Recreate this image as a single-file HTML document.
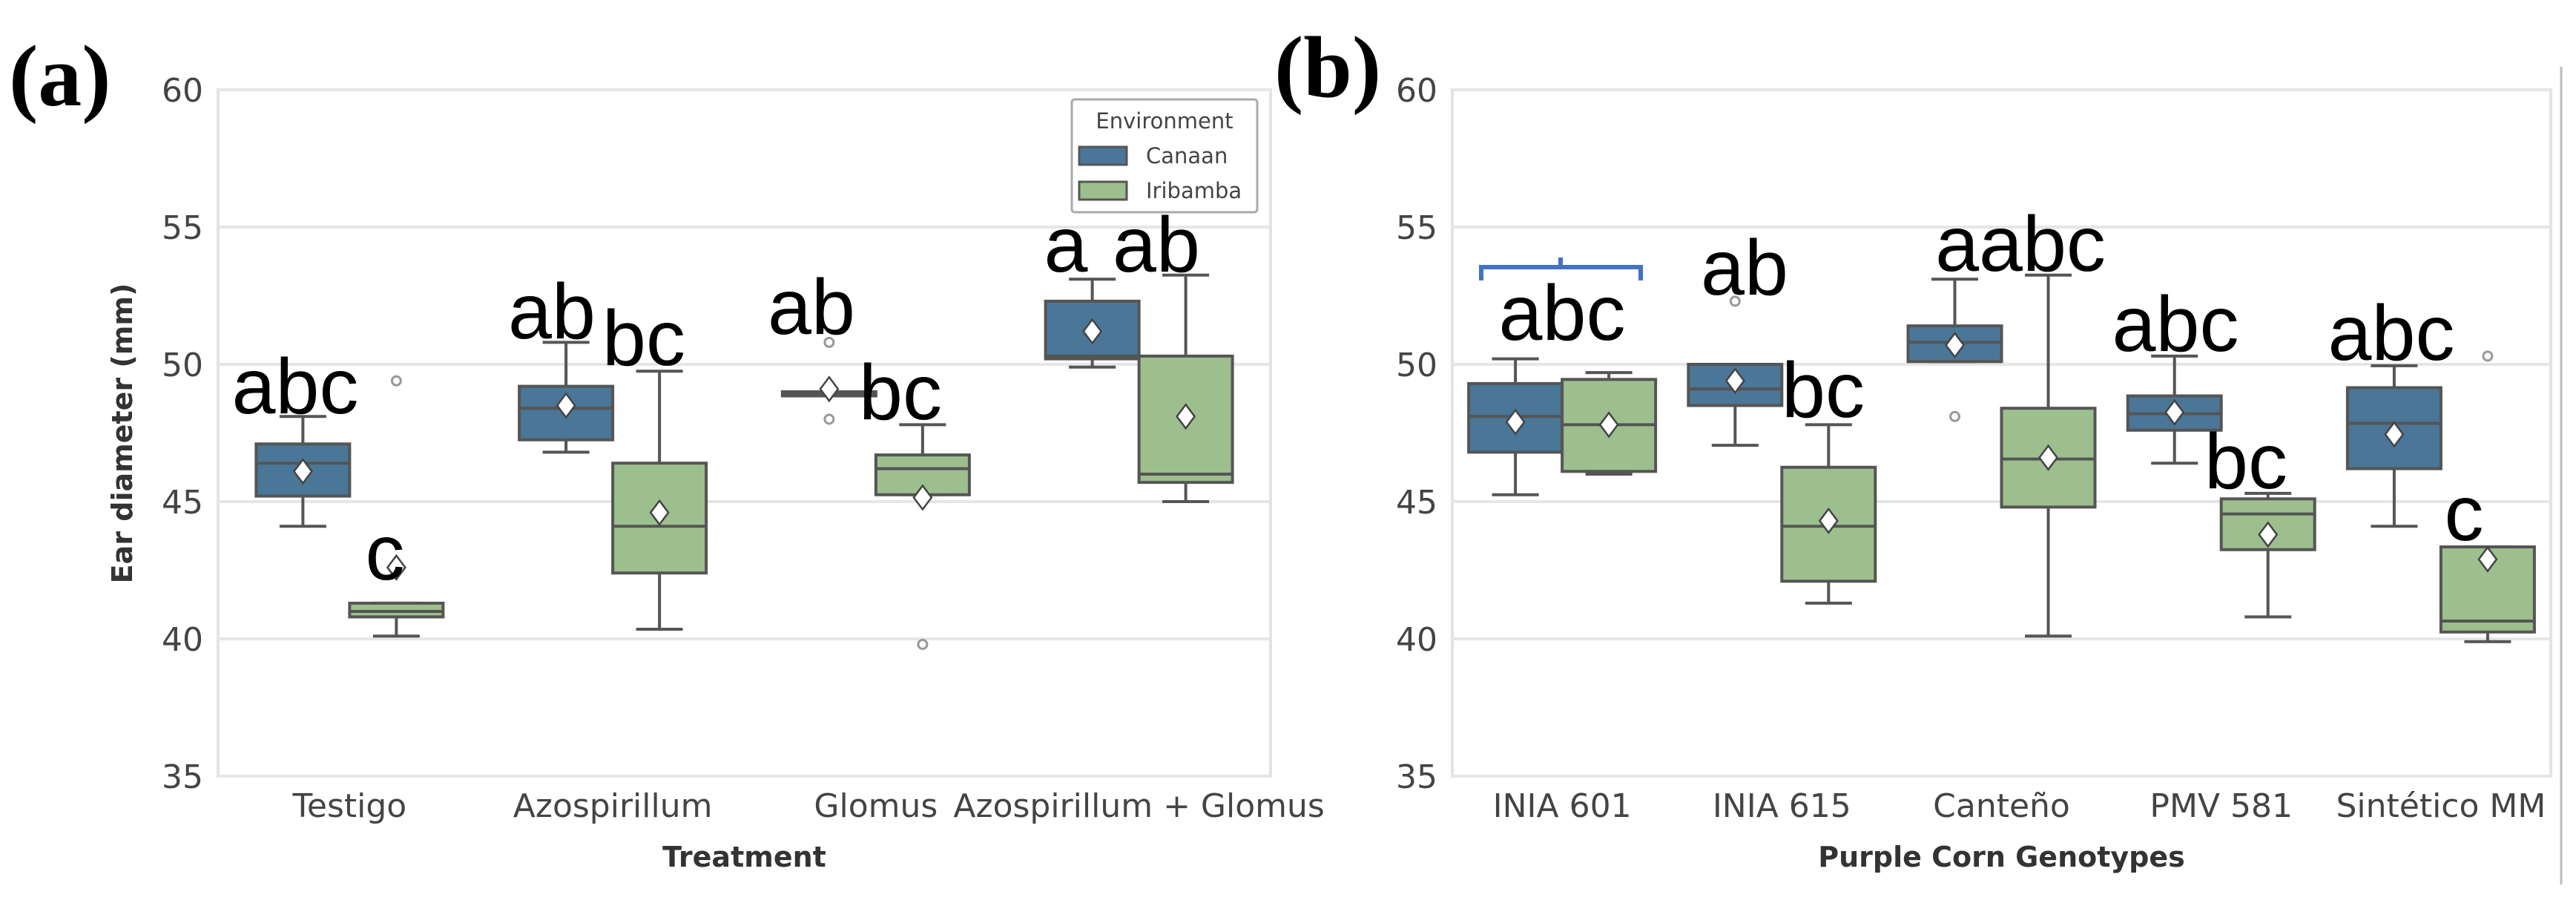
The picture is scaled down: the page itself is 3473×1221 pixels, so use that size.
<!DOCTYPE html>
<html><head><meta charset="utf-8">
<style>
html,body{margin:0;padding:0;background:#fff;}
svg{display:block;}
text{font-family:"DejaVu Sans","Liberation Sans",sans-serif;}
.tick{font-size:44px;fill:#444;}
.let{font-family:"Liberation Sans",sans-serif;font-size:106px;fill:#000;}
</style></head>
<body>
<svg id="fig" width="3473" height="1221" viewBox="0 0 3473 1221" xmlns="http://www.w3.org/2000/svg">
<text x="12" y="142" font-weight="bold" font-size="118" style="font-family:'Liberation Serif',serif">(a)</text>
<text x="1718" y="130" font-weight="bold" font-size="118" style="font-family:'Liberation Serif',serif">(b)</text>
<g id="pa"></g>
<g id="pb"></g>
<line x1="3453" y1="90" x2="3453" y2="1192" stroke="#bbb" stroke-width="3"/>
</svg>
<script>
// Panel (a) data
const catsA = ["Testigo","Azospirillum","Glomus","Azospirillum + Glomus"];
// [whiskerLow, Q1, median, Q3, whiskerHigh]
const canaanA = [[44.1,45.2,46.4,47.1,48.1],[46.8,47.25,48.4,49.2,50.8],[48.85,48.85,48.9,49.0,49.0],[49.9,50.2,50.3,52.3,53.1]];
const iribambaA = [[40.1,40.8,41.0,41.3,41.3],[40.35,42.4,44.1,46.4,49.75],[45.25,45.25,46.2,46.7,47.8],[45.0,45.7,46.0,50.3,53.25]];
const canaanMeanA = [46.1,48.5,49.1,51.2];
const iribambaMeanA = [42.6,44.6,45.15,48.1];
const canaanOutA = [[],[],[50.8,48.0],[]];
const iribambaOutA = [[49.4],[],[39.8],[]];
const lettersA = ["abc","c","ab","bc","ab","bc","a","ab"];
// Panel (b) data
const catsB = ["INIA 601","INIA 615","Canteño","PMV 581","Sintético MM"];
const canaanB = [[45.25,46.8,48.1,49.3,50.2],[47.05,48.5,49.1,50.0,50.0],[50.1,50.1,50.8,51.4,53.1],[46.4,47.6,48.2,48.85,50.3],[44.1,46.2,47.85,49.15,49.95]];
const iribambaB = [[46.0,46.1,47.8,49.45,49.7],[41.3,42.1,44.1,46.25,47.8],[40.1,44.8,46.55,48.4,53.25],[40.8,43.25,44.55,45.1,45.3],[39.9,40.25,40.65,43.35,43.35]];
const canaanMeanB = [47.9,49.4,50.7,48.25,47.45];
const iribambaMeanB = [47.8,44.3,46.6,43.8,42.9];
const canaanOutB = [[],[52.3],[48.1],[],[]];
const iribambaOutB = [[],[],[],[],[50.3]];
const lettersB = ["abc","ab","bc","aabc","abc","bc","abc","c"];
const yTicks = [35,40,45,50,55,60];

// annotation placement (pixel layout, not data)
const letPosA = [[398,557],[519,781],[744,456],[868,492],[1094,450],[1214,565],[1437,366],[1559,366]];
const letPosB = [[2106,458],[2352,397],[2458,562],[2724,365],[2933,473],[3028,658],[3224,485],[3322,728]];

const NS="http://www.w3.org/2000/svg";
const COL={c:"#4a7697",i:"#9dbf8e"};
function mk(p,tag,attrs){const e=document.createElementNS(NS,tag);for(const k in attrs)e.setAttribute(k,attrs[k]);p.appendChild(e);return e;}

function panel(g,opt){
  const L=opt.left,R=opt.right,T=121,B=1046;
  const y=v=>B-(v-35)/(60-35)*(B-T);
  const n=opt.cats.length,cw=(R-L)/n;
  const x=i=>L+cw*(i+0.5);
  const fr=mk(g,"rect",{x:L,y:T,width:R-L,height:B-T,fill:"none",stroke:"#e3e3e3","stroke-width":4});
  
  
  yTicks.forEach(v=>{
    const l=mk(g,"line",{x1:L,x2:R,y1:y(v),y2:y(v),stroke:"#e6e6e6","stroke-width":4});
    
    
    const t=mk(g,"text",{x:L-20,y:y(v)+16,"text-anchor":"end",class:"tick"});
    t.textContent=v;
    
    
  });
  opt.cats.forEach((c,i)=>{
    const t=mk(g,"text",{x:x(i),y:1101,"text-anchor":"middle",class:"tick"});
    t.textContent=c;
    
    
  });
  const xl=mk(g,"text",{x:(L+R)/2,y:1168,"text-anchor":"middle","font-size":38,"font-weight":"bold",fill:"#333"});
  xl.textContent=opt.xlabel;
  
  
  const bw=126;
  [["c",opt.can,opt.canMean,opt.canOut,-1],["i",opt.iri,opt.iriMean,opt.iriOut,1]].forEach(([k,st,mn,out,s])=>{
    st.forEach((d,i)=>{
      const cx=x(i)+s*bw/2;
      const grp=mk(g,"g",{});
      
      
      const ln={stroke:"#555","stroke-width":4};
      mk(grp,"line",Object.assign({x1:cx,x2:cx,y1:y(d[0]),y2:y(d[1])},ln));
      mk(grp,"line",Object.assign({x1:cx,x2:cx,y1:y(d[3]),y2:y(d[4])},ln));
      mk(grp,"line",Object.assign({x1:cx-bw/4,x2:cx+bw/4,y1:y(d[0]),y2:y(d[0])},ln));
      mk(grp,"line",Object.assign({x1:cx-bw/4,x2:cx+bw/4,y1:y(d[4]),y2:y(d[4])},ln));
      mk(grp,"rect",{x:cx-bw/2,y:y(d[3]),width:bw,height:Math.max(2,y(d[1])-y(d[3])),fill:COL[k],stroke:"#555","stroke-width":4});
      mk(grp,"line",Object.assign({x1:cx-bw/2,x2:cx+bw/2,y1:y(d[2]),y2:y(d[2])},ln));
      const my=y(mn[i]);
      const dm=mk(grp,"path",{d:`M${cx} ${my-16} L${cx+12} ${my} L${cx} ${my+16} L${cx-12} ${my} Z`,fill:"#fff",stroke:"#444","stroke-width":2.5});
      
      
      out[i].forEach(v=>{
        const o=mk(grp,"circle",{cx:cx,cy:y(v),r:6,fill:"none",stroke:"#999","stroke-width":3});
        
        
      });
    });
  });
  opt.letters.forEach((lt,j)=>{
    const t=mk(g,"text",{x:opt.letPos[j][0],y:opt.letPos[j][1],"text-anchor":"middle",class:"let"});
    t.textContent=lt;
    
    
  });
}
const pa=document.getElementById("pa"),pb=document.getElementById("pb");
panel(pa,{left:294,right:1713,cats:catsA,can:canaanA,iri:iribambaA,canMean:canaanMeanA,iriMean:iribambaMeanA,canOut:canaanOutA,iriOut:iribambaOutA,letters:lettersA,letPos:letPosA,xlabel:"Treatment"});
panel(pb,{left:1958,right:3439,cats:catsB,can:canaanB,iri:iribambaB,canMean:canaanMeanB,iriMean:iribambaMeanB,canOut:canaanOutB,iriOut:iribambaOutB,letters:lettersB,letPos:letPosB,xlabel:"Purple Corn Genotypes"});
const yt=document.createElementNS(NS,"text");
yt.setAttribute("transform","translate(178,584) rotate(-90)");
yt.setAttribute("text-anchor","middle");
yt.setAttribute("font-size","38");
yt.setAttribute("font-weight","bold");
yt.setAttribute("fill","#333");
yt.textContent="Ear diameter (mm)";


pa.appendChild(yt);
const lg=mk(pa,"g",{});


mk(lg,"rect",{x:1445,y:134,width:250,height:152,rx:4,fill:"#fff",stroke:"#aaa","stroke-width":3});
const lt=mk(lg,"text",{x:1570,y:173,"text-anchor":"middle","font-size":29,fill:"#444"});lt.textContent="Environment";
[["Canaan",COL.c,198],["Iribamba",COL.i,245]].forEach(([n,c,yy])=>{
  const e=mk(lg,"g",{});
  
  
  mk(e,"rect",{x:1455,y:yy,width:64,height:24,fill:c,stroke:"#555","stroke-width":3});
  const t=mk(e,"text",{x:1545,y:yy+22,"font-size":29,fill:"#444"});t.textContent=n;
});
const br=mk(pb,"path",{d:"M1997 378 L1997 360 L2212 360 L2212 378 M2104 360 L2104 347",fill:"none",stroke:"#4472c4","stroke-width":6});


</script>
</body></html>
